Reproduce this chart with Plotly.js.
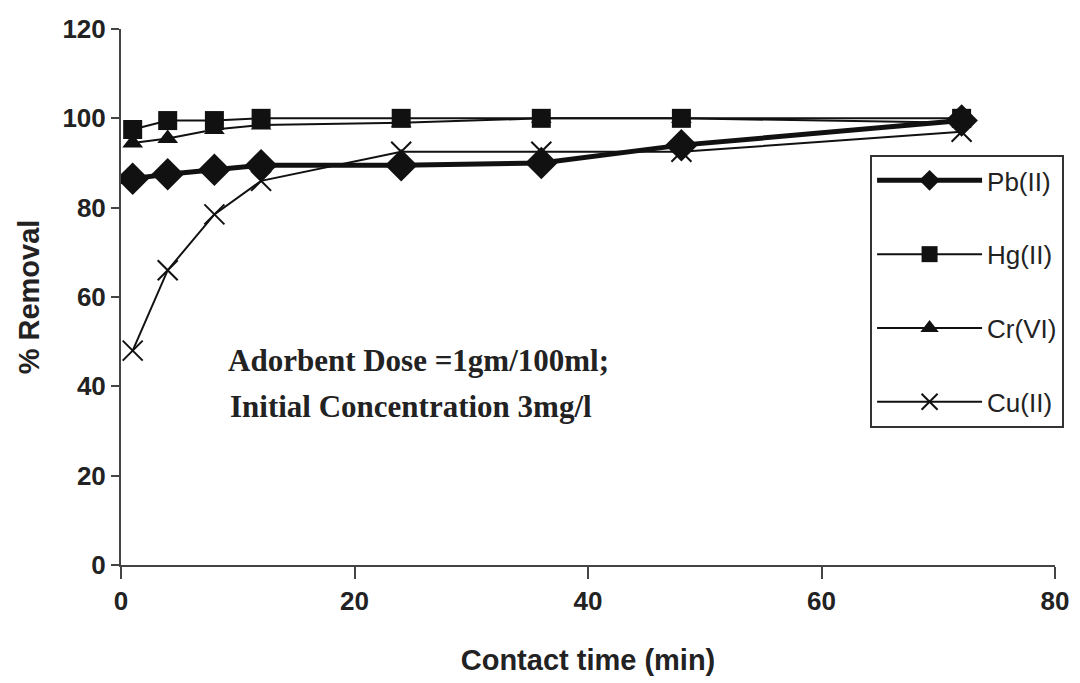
<!DOCTYPE html>
<html>
<head>
<meta charset="utf-8">
<script src="https://cdn.plot.ly/plotly-3.0.1.min.js"></script>
<style>html,body{margin:0;padding:0;background:#fff;}#chart{width:1080px;height:683px;}</style>
</head>
<body>
<div id="chart"></div>
<script>
const contactTime = [1, 4, 8, 12, 24, 36, 48, 72];
const pbRemoval = [86.5, 87.5, 88.5, 89.5, 89.5, 90, 94, 99.5];
const hgRemoval = [97.5, 99.5, 99.5, 100, 100, 100, 100, 100];
const crRemoval = [94.5, 95.5, 97.5, 98.5, 99, 100, 100, 99];
const cuRemoval = [48, 66, 78.5, 86, 92.5, 92.5, 92.5, 97];
const seriesNames = ['Pb(II)', 'Hg(II)', 'Cr(VI)', 'Cu(II)'];
const xTicks = [0, 20, 40, 60, 80];
const yTicks = [0, 20, 40, 60, 80, 100, 120];

const black = '#111';
const traces = [
  {x: contactTime, y: cuRemoval, name: seriesNames[3], legendrank: 4, legendgroup: 'd',
   mode: 'lines+markers', line: {color: black, width: 2},
   marker: {symbol: 'x-thin-open', size: 20, color: black, line: {width: 2, color: black}}},
  {x: contactTime, y: crRemoval, name: seriesNames[2], legendrank: 3, legendgroup: 'c',
   mode: 'lines+markers', line: {color: black, width: 2},
   marker: {symbol: 'triangle-up', size: 18, color: black}},
  {x: contactTime, y: hgRemoval, name: seriesNames[1], legendrank: 2, legendgroup: 'b',
   mode: 'lines+markers', line: {color: black, width: 2},
   marker: {symbol: 'square', size: 19, color: black}},
  {x: contactTime, y: pbRemoval, name: seriesNames[0], legendrank: 1, legendgroup: 'a',
   mode: 'lines+markers', line: {color: black, width: 5},
   marker: {symbol: 'diamond', size: 25, color: black}}
];

const layout = {
  width: 1080, height: 683,
  margin: {l: 121, r: 25, t: 29, b: 118},
  paper_bgcolor: '#fff', plot_bgcolor: '#fff',
  font: {family: 'Liberation Sans, Arial, sans-serif', color: '#222'},
  showlegend: true,
  legend: {
    x: 0.802, y: 0.765, xanchor: 'left', yanchor: 'top',
    bordercolor: '#333', borderwidth: 2, bgcolor: '#fff',
    font: {size: 26, color: '#222'},
    traceorder: 'grouped', tracegroupgap: 37, itemwidth: 105
  },
  xaxis: {
    range: [0, 80], tickvals: xTicks, ticktext: xTicks.map(String),
    showgrid: false, zeroline: false, showline: true, linecolor: '#444', linewidth: 2,
    ticks: 'outside', ticklen: 12, tickwidth: 2, tickcolor: '#444',
    tickfont: {size: 26, color: '#222', family: 'Liberation Sans, Arial, sans-serif', weight: 'bold'},
    title: {text: '<b>Contact time (min)</b>', font: {size: 29, color: '#222'}, standoff: 34}
  },
  yaxis: {
    range: [0, 120], tickvals: yTicks, ticktext: yTicks.map(String),
    showgrid: false, zeroline: false, showline: true, linecolor: '#444', linewidth: 2,
    ticks: 'outside', ticklen: 8, tickwidth: 2, tickcolor: '#444',
    tickfont: {size: 26, color: '#222', family: 'Liberation Sans, Arial, sans-serif', weight: 'bold'},
    title: {text: '<b>% Removal</b>', font: {size: 29, color: '#222'}, standoff: 14}
  },
  annotations: [
    {x: 9.0, y: 45.8, xref: 'x', yref: 'y', xanchor: 'left', yanchor: 'middle', showarrow: false,
     text: '<b>Adorbent Dose =1gm/100ml;</b>',
     font: {family: 'Liberation Serif, Times New Roman, serif', size: 31, color: '#222'}},
    {x: 9.2, y: 35.4, xref: 'x', yref: 'y', xanchor: 'left', yanchor: 'middle', showarrow: false,
     text: '<b>Initial Concentration 3mg/l</b>',
     font: {family: 'Liberation Serif, Times New Roman, serif', size: 31, color: '#222'}}
  ]
};

Plotly.newPlot('chart', traces, layout, {staticPlot: true, displayModeBar: false});
</script>
</body>
</html>
